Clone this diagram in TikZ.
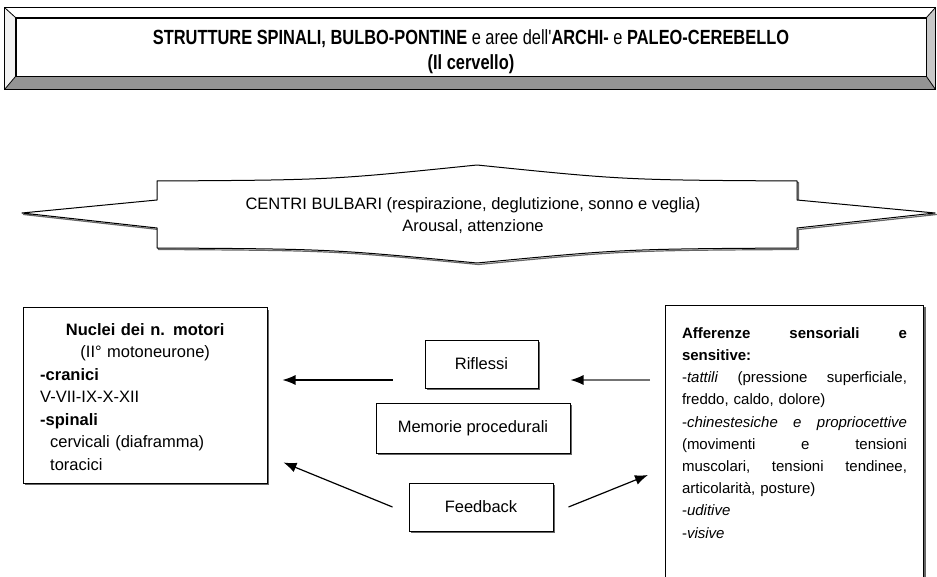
\documentclass[tikz,border=0pt]{standalone}
\usepackage{fontspec}
\setmainfont{Liberation Sans}
\newfontfamily\stretta{Liberation Sans}[FakeStretch=0.8]
\usetikzlibrary{arrows.meta,positioning,calc,shadows}

\tikzset{
  ombra/.style={drop shadow={shadow xshift=2pt, shadow yshift=-2pt, fill=black!60, opacity=1}},
  riquadro/.style={draw=black, line width=1pt, fill=white, ombra, font=\fontsize{16.5}{22.5}\selectfont},
  piccolo/.style={riquadro, align=center, inner sep=0pt},
  freccia/.style={-{Latex[length=13pt,width=10pt]}, draw=black, line width=1.2pt},
  frecciachiara/.style={freccia, draw=black!55, -{Latex[length=13pt,width=10pt,color=black]}},
  cornice/.style={draw=black, line width=0.8pt},
}

\begin{document}
\begin{tikzpicture}[x=1pt,y=-1pt]
\useasboundingbox (0,0) rectangle (937,577);

% ---------- titolo con cornice in rilievo ----------
\node[cornice, fill=white, minimum width=910pt, minimum height=58pt, inner sep=0pt] (fascia) at (471,47) {};
\coordinate (tNO) at ($(fascia.north west)+(-11,-10)$);
\coordinate (tNE) at ($(fascia.north east)+(9,-10)$);
\coordinate (tSO) at ($(fascia.south west)+(-11,13)$);
\coordinate (tSE) at ($(fascia.south east)+(9,13)$);
\fill[black!42] (tSO) -- (tSE) -- (fascia.south east) -- (fascia.south west) -- cycle;
\fill[black!22] (tNE) -- (tSE) -- (fascia.south east) -- (fascia.north east) -- cycle;
\fill[white] (tNO) -- (tNE) -- (fascia.north east) -- (fascia.north west) -- cycle;
\fill[black!5] (tNO) -- (tSO) -- (fascia.south west) -- (fascia.north west) -- cycle;
\draw[cornice] (tNO) rectangle (tSE);
\draw[cornice] (tNO) -- (fascia.north west) (tNE) -- (fascia.north east)
               (tSO) -- (fascia.south west) (tSE) -- (fascia.south east);
\draw[cornice] (fascia.north west) rectangle (fascia.south east);
\node[align=center, font=\stretta\bfseries\fontsize{20.5}{25}\selectfont, inner sep=0pt] (titolo) at (471,52)
  {STRUTTURE SPINALI, BULBO-PONTINE {\mdseries e aree dell'}ARCHI- {\mdseries e} PALEO-CEREBELLO\\
   (Il cervello)};

% ---------- centri bulbari (freccia doppia) ----------
\draw[black!60, line width=1.2pt, line join=round, shift={(1.5pt,-1.5pt)}]
  (22,213) -- (157,200) -- (157,181) .. controls (330,180) .. (477,165)
  .. controls (624,180) .. (797,181) -- (797,200) -- (935,213) -- (797,228) -- (797,248)
  .. controls (624,249) .. (477,263) .. controls (330,249) .. (157,248) -- (157,228) -- cycle;
\draw[black, line width=1pt, line join=round, fill=white]
  (22,213) -- (157,200) -- (157,181) .. controls (330,180) .. (477,165)
  .. controls (624,180) .. (797,181) -- (797,200) -- (935,213) -- (797,228) -- (797,248)
  .. controls (624,249) .. (477,263) .. controls (330,249) .. (157,248) -- (157,228) -- cycle;
\node[font=\fontsize{16.5}{22}\selectfont, align=center] (centri) at (473,216)
  {CENTRI BULBARI (respirazione, deglutizione, sonno e veglia)\\ Arousal, attenzione};

% ---------- nuclei motori ----------
\node[riquadro, minimum width=244pt, minimum height=175pt, inner sep=0pt] (nuclei) at (145,395.5) {};
\node[font=\fontsize{16.5}{22.5}\selectfont, anchor=north west, align=left, inner sep=0pt,
      text width=210pt] (testonuclei) at (40,323)
  {\makebox[210pt]{\textbf{Nuclei dei n. motori}}\\
   \makebox[210pt]{(II° motoneurone)}\\
   \textbf{-cranici}\\
   V-VII-IX-X-XII\\
   \textbf{-spinali}\\
   \hspace*{10pt}cervicali (diaframma)\\
   \hspace*{10pt}toracici};

% ---------- riquadri centrali ----------
\node[piccolo, minimum width=113pt, minimum height=48pt] (riflessi) at (481.5,364) {Riflessi};
\node[piccolo, minimum width=194pt, minimum height=50pt] (memorie) at (473,428) {Memorie procedurali};
\node[piccolo, minimum width=144pt, minimum height=48pt] (feedback) at (481,507) {Feedback};

% ---------- afferenze ----------
\node[riquadro, anchor=north west, text width=225pt, inner xsep=16.5pt, inner ysep=22pt,
      align=left, font=\fontsize{15}{22.2}\selectfont] (afferenze) at (665,305)
  {\makebox[225pt]{\textbf{Afferenze}\hfill\textbf{sensoriali}\hfill\textbf{e}}\\
   \textbf{sensitive:}\\
   \makebox[225pt]{-\textit{tattili}\hfill(pressione\hfill superficiale,}\\
   freddo, caldo, dolore)\\
   \makebox[225pt]{-\textit{chinestesiche}\hfill\textit{e}\hfill\textit{propriocettive}}\\
   \makebox[225pt]{(movimenti\hfill e\hfill tensioni}\\
   \makebox[225pt]{muscolari,\hfill tensioni\hfill tendinee,}\\
   articolarità, posture)\\
   -\textit{uditive}\\
   -\textit{visive}\\[40pt]\mbox{}};

% ---------- frecce ----------
\draw[frecciachiara] ($(afferenze.west |- riflessi.east)+(-15,16)$) -- ($(riflessi.east)+(32,16)$);
\draw[freccia] ($(riflessi.west)+(-32,16)$) -- ($(nuclei.east |- riflessi.east)+(15,16)$);
\draw[freccia] ($(feedback.west)+(-16,0)$) -- ($(nuclei.south east)+(16,-21)$);
\draw[freccia] ($(feedback.east)+(15,0)$) -- ($(afferenze.west |- feedback.east)+(-17,-32)$);

\end{tikzpicture}
\end{document}
